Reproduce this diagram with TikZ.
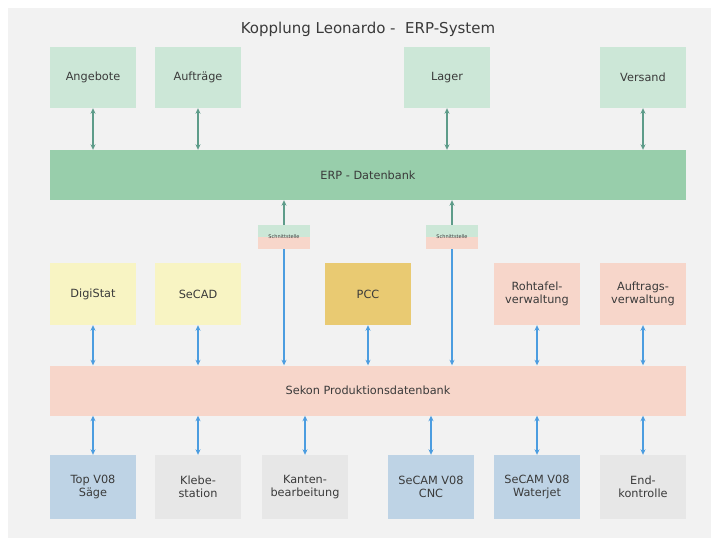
\documentclass[tikz,border=0pt]{standalone}
\usepackage{fontspec}
\setmainfont{DejaVu Sans}
\usetikzlibrary{arrows.meta}
\definecolor{panel}{HTML}{F2F2F2}
\definecolor{lgreen}{HTML}{CCE7D7}
\definecolor{dgreen}{HTML}{98CEAB}
\definecolor{lyellow}{HTML}{F8F4C3}
\definecolor{gold}{HTML}{E9CA72}
\definecolor{lpink}{HTML}{F7D6CA}
\definecolor{lblue}{HTML}{BED3E5}
\definecolor{lgray}{HTML}{E7E7E7}
\definecolor{tealarr}{HTML}{5E9C8A}
\definecolor{bluearr}{HTML}{4C9DE0}
\definecolor{txt}{HTML}{3A3A3A}
\tikzset{
  box/.style={rectangle, inner sep=0pt, minimum width=86pt, minimum height=61pt,
    align=center, text=txt, font=\fontsize{11.3}{13.5}\selectfont},
  wide/.style={rectangle, inner sep=0pt, minimum width=636pt, minimum height=50pt,
    text=txt, font=\fontsize{11.3}{13.5}\selectfont},
  iface/.style={rectangle, inner sep=0pt, minimum width=52pt, minimum height=24pt,
    fill=lpink, text=txt, font=\fontsize{5}{6}\selectfont,
    path picture={\fill[lgreen] (path picture bounding box.north west) rectangle (path picture bounding box.east);}},
  tarr/.style={draw=tealarr, line width=1.8pt, {Stealth[length=5.5pt,width=5pt]}-{Stealth[length=5.5pt,width=5pt]}},
  tup/.style={draw=tealarr, line width=1.8pt, -{Stealth[length=5.5pt,width=5pt]}},
  barr/.style={draw=bluearr, line width=1.8pt, {Stealth[length=5.5pt,width=5pt]}-{Stealth[length=5.5pt,width=5pt]}},
  bdown/.style={draw=bluearr, line width=1.8pt, -{Stealth[length=5.5pt,width=5pt]}},
}
\begin{document}
\begin{tikzpicture}[x=1pt,y=-1pt]
\useasboundingbox (0,0) rectangle (720,547);
\fill[white] (0,0) rectangle (720,547);
\fill[panel] (8,8) rectangle (711,538);
\node[text=txt, font=\fontsize{15}{17}\selectfont] (title) at (368,29) {Kopplung Leonardo -\ \ ERP-System};
% top row
\node[box, fill=lgreen] (ang) at (93,77.5) {Angebote};
\node[box, fill=lgreen] (auf) at (198,77.5) {Aufträge};
\node[box, fill=lgreen] (lag) at (447,77.5) {Lager};
\node[box, fill=lgreen] (ver) at (643,77.5) {Versand};
\node[wide, fill=dgreen] (erp) at (368,175) {ERP - Datenbank};
% interfaces
\node[iface] (if1) at (284,237) {Schnittstelle};
\node[iface] (if2) at (452,237) {Schnittstelle};
% middle row
\node[box, fill=lyellow, minimum height=62pt] (digi) at (93,294) {DigiStat};
\node[box, fill=lyellow, minimum height=62pt] (secad) at (198,294) {SeCAD};
\node[box, fill=gold, minimum height=62pt] (pcc) at (368,294) {PCC};
\node[box, fill=lpink, minimum height=62pt] (roh) at (537,294) {Rohtafel-\\verwaltung};
\node[box, fill=lpink, minimum height=62pt] (aufv) at (643,294) {Auftrags-\\verwaltung};
\node[wide, fill=lpink] (sek) at (368,390.5) {Sekon Produktionsdatenbank};
% bottom row
\node[box, fill=lblue, minimum height=64pt] (top) at (93,487) {Top V08\\Säge};
\node[box, fill=lgray, minimum height=64pt] (kle) at (198,487) {Klebe-\\station};
\node[box, fill=lgray, minimum height=64pt] (kan) at (305,487) {Kanten-\\bearbeitung};
\node[box, fill=lblue, minimum height=64pt] (cnc) at (431,487) {SeCAM V08\\CNC};
\node[box, fill=lblue, minimum height=64pt] (wat) at (537,487) {SeCAM V08\\Waterjet};
\node[box, fill=lgray, minimum height=64pt] (end) at (643,487) {End-\\kontrolle};
% connectors top
\draw[tarr] (ang.south) -- (ang.south |- erp.north);
\draw[tarr] (auf.south) -- (auf.south |- erp.north);
\draw[tarr] (lag.south) -- (lag.south |- erp.north);
\draw[tarr] (ver.south) -- (ver.south |- erp.north);
\draw[tup] (if1.north) -- (if1.north |- erp.south);
\draw[tup] (if2.north) -- (if2.north |- erp.south);
\draw[bdown] (if1.south) -- (if1.south |- sek.north);
\draw[bdown] (if2.south) -- (if2.south |- sek.north);
% middle connectors
\draw[barr] (digi.south) -- (digi.south |- sek.north);
\draw[barr] (secad.south) -- (secad.south |- sek.north);
\draw[barr] (pcc.south) -- (pcc.south |- sek.north);
\draw[barr] (roh.south) -- (roh.south |- sek.north);
\draw[barr] (aufv.south) -- (aufv.south |- sek.north);
% bottom connectors
\draw[barr] (top.north |- sek.south) -- (top.north);
\draw[barr] (kle.north |- sek.south) -- (kle.north);
\draw[barr] (kan.north |- sek.south) -- (kan.north);
\draw[barr] (cnc.north |- sek.south) -- (cnc.north);
\draw[barr] (wat.north |- sek.south) -- (wat.north);
\draw[barr] (end.north |- sek.south) -- (end.north);
\end{tikzpicture}
\end{document}
